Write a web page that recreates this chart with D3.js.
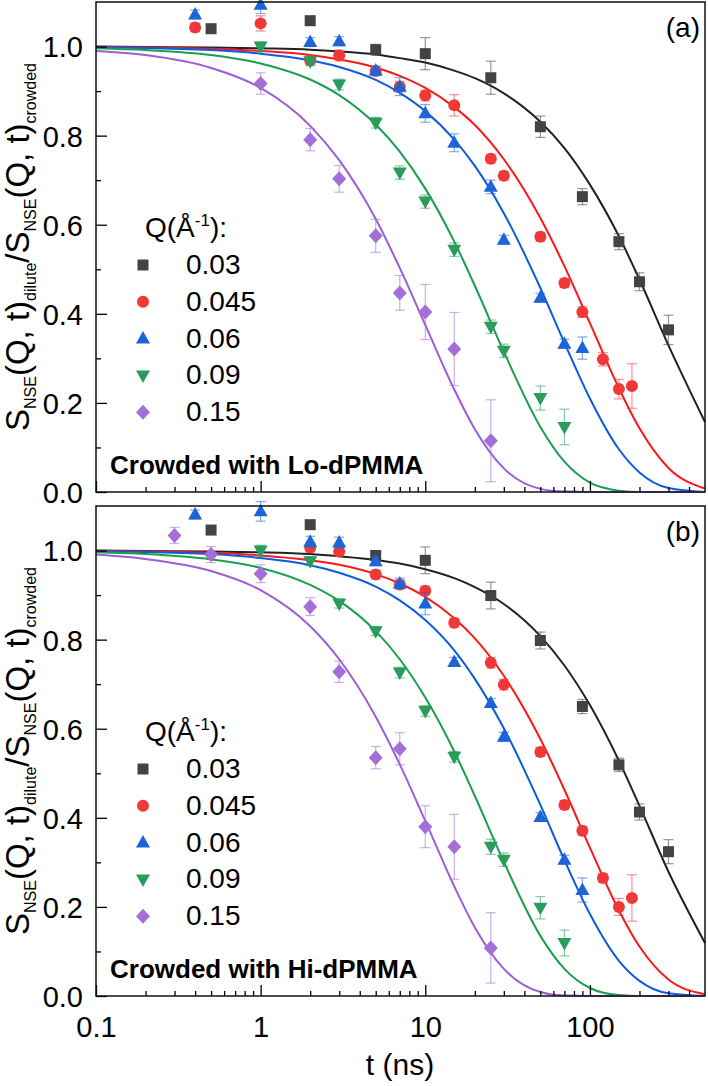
<!DOCTYPE html>
<meta charset="utf-8">
<script src="https://d3js.org/d3.v7.min.js"></script>
<style>
  body { margin: 0; background: #fff; }
  svg { font-family: "Liberation Sans", Arial, sans-serif; }
</style>
<div id="chart"></div>
<script>
// legend / series labels
var qLabels = ["0.03", "0.045", "0.06", "0.09", "0.15"];
var shapes = ["square", "circle", "up", "down", "diamond"];
var fills = ["#434343", "#ef3838", "#1c64d8", "#2a9d5c", "#a46ed8"];
var lineColors = ["#222222", "#ff1717", "#0b5ce0", "#17a04d", "#9e5cd8"];

// axis ticks
var xMajor = [0.1, 1, 10, 100];
var xTickLabels = ["0.1", "1", "10", "100"];
var yMajor = [0, 0.2, 0.4, 0.6, 0.8, 1.0];
var yTickLabels = ["0.0", "0.2", "0.4", "0.6", "0.8", "1.0"];
var yMinor = [0.1, 0.3, 0.5, 0.7, 0.9];

// times (ns) at which the fitted curves are read
var fitTimes = [0.1, 0.2, 0.5, 1, 2, 3, 5, 7, 10, 15, 20, 30, 50, 70, 100, 150, 200, 300, 500];

// ---- panel (a): crowded with Lo-dPMMA ----
var aT1 = [0.5, 2, 5, 10, 25, 50, 90, 150, 200, 300];
var aV1 = [1.04, 1.058, 0.993, 0.984, 0.93, 0.82, 0.663, 0.562, 0.472, 0.364];
var aE1 = [0.01, 0.01, 0.012, 0.036, 0.037, 0.024, 0.018, 0.018, 0.02, 0.033];
var aT2 = [0.4, 1, 2, 3, 5, 7, 10, 15, 25, 30, 50, 70, 90, 120, 150, 180];
var aV2 = [1.043, 1.052, 0.969, 0.98, 0.945, 0.91, 0.89, 0.868, 0.748, 0.71, 0.573, 0.469, 0.404, 0.298, 0.231, 0.238];
var aE2 = [0.01, 0.017, 0.01, 0.012, 0.01, 0.012, 0.012, 0.024, 0.01, 0.01, 0.01, 0.01, 0.012, 0.015, 0.022, 0.05];
var aT3 = [0.4, 1, 2, 3, 5, 7, 10, 15, 25, 30, 50, 70, 90];
var aV3 = [1.072, 1.094, 1.01, 1.012, 0.946, 0.91, 0.85, 0.784, 0.685, 0.566, 0.436, 0.333, 0.323];
var aE3 = [0.01, 0.02, 0.01, 0.01, 0.01, 0.02, 0.02, 0.02, 0.015, 0.01, 0.01, 0.01, 0.025];
var aT4 = [1, 2, 3, 5, 7, 10, 15, 25, 30, 50, 70];
var aV4 = [1.0, 0.967, 0.915, 0.829, 0.717, 0.652, 0.544, 0.371, 0.317, 0.211, 0.146];
var aE4 = [0.01, 0.01, 0.012, 0.012, 0.015, 0.015, 0.015, 0.015, 0.015, 0.027, 0.04];
var aT5 = [1, 2, 3, 5, 7, 10, 15, 25];
var aV5 = [0.917, 0.791, 0.703, 0.575, 0.447, 0.404, 0.321, 0.115];
var aE5 = [0.024, 0.025, 0.03, 0.037, 0.039, 0.062, 0.082, 0.092];
var aFit1 = [1.0, 0.999, 0.998, 0.996, 0.993, 0.989, 0.982, 0.974, 0.964, 0.946, 0.929, 0.895, 0.831, 0.772, 0.690, 0.574, 0.477, 0.329, 0.157];
var aFit2 = [0.999, 0.998, 0.995, 0.990, 0.981, 0.971, 0.953, 0.934, 0.907, 0.864, 0.824, 0.747, 0.615, 0.507, 0.379, 0.233, 0.143, 0.054, 0.008];
var aFit3 = [0.998, 0.997, 0.992, 0.984, 0.969, 0.954, 0.925, 0.896, 0.855, 0.791, 0.732, 0.626, 0.458, 0.335, 0.210, 0.096, 0.044, 0.009, 0.0];
var aFit4 = [0.996, 0.992, 0.981, 0.962, 0.926, 0.891, 0.825, 0.764, 0.681, 0.562, 0.463, 0.315, 0.146, 0.068, 0.021, 0.003, 0.0, 0.0, 0.0];
var aFit5 = [0.990, 0.981, 0.952, 0.907, 0.822, 0.745, 0.613, 0.503, 0.375, 0.230, 0.141, 0.053, 0.007, 0.001, 0.0, 0.0, 0.0, 0.0, 0.0];

// ---- panel (b): crowded with Hi-dPMMA ----
var bT1 = [0.5, 2, 5, 10, 25, 50, 90, 150, 200, 300];
var bV1 = [1.046, 1.058, 0.989, 0.978, 0.899, 0.798, 0.65, 0.519, 0.413, 0.324];
var bE1 = [0.01, 0.01, 0.01, 0.03, 0.03, 0.019, 0.016, 0.015, 0.018, 0.027];
var bT2 = [2, 3, 5, 7, 10, 15, 25, 30, 50, 70, 90, 120, 150, 180];
var bV2 = [1.007, 0.998, 0.946, 0.924, 0.91, 0.838, 0.748, 0.699, 0.548, 0.429, 0.371, 0.265, 0.2, 0.22];
var bE2 = [0.01, 0.01, 0.01, 0.01, 0.01, 0.01, 0.012, 0.012, 0.01, 0.01, 0.01, 0.01, 0.019, 0.052];
var bT3 = [0.4, 1, 2, 3, 5, 7, 10, 15, 25, 30, 50, 70, 90];
var bV3 = [1.081, 1.088, 1.02, 1.018, 0.976, 0.926, 0.881, 0.75, 0.658, 0.582, 0.402, 0.306, 0.238];
var bE3 = [0.01, 0.022, 0.012, 0.012, 0.01, 0.012, 0.025, 0.01, 0.01, 0.01, 0.01, 0.01, 0.027];
var bT4 = [1, 2, 3, 5, 7, 10, 15, 25, 30, 50, 70];
var bV4 = [1.0, 0.976, 0.881, 0.819, 0.726, 0.64, 0.537, 0.335, 0.306, 0.198, 0.119];
var bE4 = [0.012, 0.01, 0.01, 0.01, 0.012, 0.012, 0.012, 0.017, 0.015, 0.025, 0.029];
var bT5 = [0.3, 0.5, 1, 2, 3, 5, 7, 10, 15, 25];
var bV5 = [1.034, 0.991, 0.948, 0.874, 0.728, 0.535, 0.555, 0.38, 0.335, 0.108];
var bE5 = [0.018, 0.018, 0.02, 0.02, 0.024, 0.025, 0.036, 0.047, 0.073, 0.079];
var bFit1 = [1.0, 0.999, 0.998, 0.996, 0.992, 0.987, 0.979, 0.971, 0.958, 0.938, 0.918, 0.880, 0.808, 0.742, 0.653, 0.528, 0.427, 0.279, 0.119];
var bFit2 = [0.999, 0.998, 0.995, 0.989, 0.978, 0.968, 0.947, 0.926, 0.896, 0.848, 0.803, 0.719, 0.577, 0.463, 0.333, 0.192, 0.111, 0.037, 0.004];
var bFit3 = [0.998, 0.997, 0.992, 0.983, 0.967, 0.950, 0.919, 0.888, 0.844, 0.776, 0.712, 0.601, 0.429, 0.305, 0.184, 0.079, 0.034, 0.006, 0.0];
var bFit4 = [0.996, 0.992, 0.980, 0.961, 0.923, 0.887, 0.819, 0.756, 0.670, 0.549, 0.449, 0.301, 0.135, 0.061, 0.018, 0.002, 0.0, 0.0, 0.0];
var bFit5 = [0.991, 0.981, 0.954, 0.911, 0.830, 0.756, 0.627, 0.520, 0.393, 0.246, 0.154, 0.061, 0.009, 0.001, 0.0, 0.0, 0.0, 0.0, 0.0];

function series(ts, vs, es, fit) {
  return { pts: ts.map(function(t, i) { return {t: t, v: vs[i], e: es[i]}; }), fit: fit };
}

var panels = [
  { top: 2, bottom: 492, tag: "(a)", note: "Crowded with Lo-dPMMA", labels: false,
    series: [series(aT1, aV1, aE1, aFit1), series(aT2, aV2, aE2, aFit2), series(aT3, aV3, aE3, aFit3),
             series(aT4, aV4, aE4, aFit4), series(aT5, aV5, aE5, aFit5)] },
  { top: 506, bottom: 996, tag: "(b)", note: "Crowded with Hi-dPMMA", labels: true,
    series: [series(bT1, bV1, bE1, bFit1), series(bT2, bV2, bE2, bFit2), series(bT3, bV3, bE3, bFit3),
             series(bT4, bV4, bE4, bFit4), series(bT5, bV5, bE5, bFit5)] }
];

var svg = d3.select("#chart").append("svg")
    .attr("width", 708)
    .attr("height", 1086);

var x = d3.scaleLog().domain([0.1, 500]).range([96, 705]);

// marker outlines
function shapePath(kind) {
  switch (kind) {
    case "square": return "M-5.5,-5.5H5.5V5.5H-5.5Z";
    case "circle": return "M6,0A6,6 0 1,1 -6,0A6,6 0 1,1 6,0Z";
    case "up": return "M0,-7.5L7,5L-7,5Z";
    case "down": return "M0,7.5L7,-5L-7,-5Z";
    default: return "M0,-7.5L7,0L0,7.5L-7,0Z";
  }
}

panels.forEach(function(p) {
  var y = d3.scaleLinear().domain([0, 1.1]).range([p.bottom, p.top]);
  var g = svg.append("g");

  // fitted curves
  var line = d3.line()
      .x(function(d) { return x(d[0]); })
      .y(function(d) { return y(d[1]); })
      .curve(d3.curveMonotoneX);
  p.series.forEach(function(s, k) {
    g.append("path")
      .datum(fitTimes.map(function(t, i) { return [t, s.fit[i]]; }))
      .attr("d", line)
      .attr("fill", "none")
      .attr("stroke", lineColors[k])
      .attr("stroke-width", 2);
  });

  // error bars and markers
  p.series.forEach(function(s, k) {
    var eb = g.append("g")
      .attr("stroke", fills[k])
      .attr("stroke-opacity", 0.55)
      .attr("stroke-width", 1.2);
    s.pts.forEach(function(d) {
      var cx = x(d.t), y0 = y(d.v - d.e), y1 = y(d.v + d.e);
      eb.append("line").attr("x1", cx).attr("x2", cx).attr("y1", y0).attr("y2", y1);
      eb.append("line").attr("x1", cx - 5).attr("x2", cx + 5).attr("y1", y0).attr("y2", y0);
      eb.append("line").attr("x1", cx - 5).attr("x2", cx + 5).attr("y1", y1).attr("y2", y1);
    });
    g.append("g").selectAll("path")
      .data(s.pts)
      .enter()
      .append("path")
        .attr("d", shapePath(shapes[k]))
        .attr("transform", function(d) { return "translate(" + x(d.t) + "," + y(d.v) + ")"; })
        .attr("fill", fills[k]);
  });

  // y axis (ticks point inward)
  var yAx = g.append("g")
      .attr("transform", "translate(96,0)")
      .call(d3.axisLeft(y).tickValues(yMajor)
        .tickFormat(function(d, i) { return yTickLabels[i]; })
        .tickSize(-11).tickPadding(13));
  g.append("g")
      .attr("transform", "translate(96,0)")
      .call(d3.axisLeft(y).tickValues(yMinor).tickFormat("").tickSize(-5));

  // x axis
  var xAx = g.append("g")
      .attr("transform", "translate(0," + p.bottom + ")")
      .call(d3.axisBottom(x).tickValues(xMajor)
        .tickFormat(function(d, i) { return p.labels ? xTickLabels[i] : ""; })
        .tickSize(-11).tickPadding(20));
  var minor = x.ticks().filter(function(t) { return xMajor.indexOf(t) < 0 && t < 500; });
  g.append("g")
      .attr("transform", "translate(0," + p.bottom + ")")
      .call(d3.axisBottom(x).tickValues(minor).tickFormat("").tickSize(-5));

  g.selectAll(".domain").remove();
  g.selectAll(".tick line").attr("stroke", "#000").attr("stroke-width", 1.3);
  g.selectAll(".tick text").attr("fill", "#000").style("font-size", "29px")
      .style("font-family", "'Liberation Sans', Arial, sans-serif");
  yAx.selectAll(".tick text").attr("dy", "0.36em");

  // frame
  g.append("rect")
      .attr("x", 96).attr("y", p.top)
      .attr("width", 705 - 96).attr("height", p.bottom - p.top)
      .attr("fill", "none").attr("stroke", "#111").attr("stroke-width", 1.5);

  // panel tag and note
  g.append("text").attr("x", 700).attr("y", p.top + 35)
      .attr("text-anchor", "end").style("font-size", "28px").text(p.tag);
  g.append("text").attr("x", 110).attr("y", p.bottom - 18)
      .style("font-size", "26px").style("font-weight", "bold").text(p.note);

  // legend
  var lg = g.append("text").attr("x", 145).attr("y", p.top + 235).style("font-size", "28px");
  lg.append("tspan").text("Q(Å");
  lg.append("tspan").attr("dy", -11).style("font-size", "17px").text("-1");
  lg.append("tspan").attr("dy", 11).text("):");
  qLabels.forEach(function(q, k) {
    var ry = p.top + 263 + k * 36.8;
    g.append("path").attr("d", shapePath(shapes[k]))
      .attr("transform", "translate(143," + ry + ")")
      .attr("fill", fills[k]);
    g.append("text").attr("x", 186).attr("y", ry + 9)
      .style("font-size", "28px").text(q);
  });

  // y title
  var yt = svg.append("text")
      .attr("transform", "translate(29," + ((p.top + p.bottom) / 2) + ") rotate(-90)")
      .attr("text-anchor", "middle")
      .style("font-size", "33px");
  var parts = [["S", 0], ["NSE", 1], ["(Q, t)", 0], ["dilute", 1], ["/S", 0], ["NSE", 1], ["(Q, t)", 0], ["crowded", 1]];
  var prev = 0;
  parts.forEach(function(pt) {
    var ts = yt.append("tspan").text(pt[0]).attr("dy", (pt[1] - prev) * 7);
    if (pt[1]) ts.style("font-size", "16px");
    prev = pt[1];
  });
});

// x title
svg.append("text")
    .attr("x", 400).attr("y", 1075)
    .attr("text-anchor", "middle")
    .style("font-size", "30px")
    .text("t (ns)");
</script>
